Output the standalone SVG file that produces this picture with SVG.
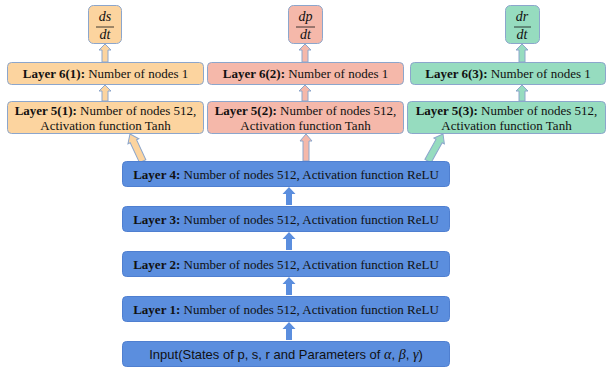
<svg xmlns="http://www.w3.org/2000/svg" width="606" height="369" viewBox="0 0 606 369">
<defs>
<style>
.bg{fill:#ffffff}
.org{fill:#FCD49F;stroke:#8CA6CC;stroke-width:1}
.pnk{fill:#F5B8AA;stroke:#8CA6CC;stroke-width:1}
.grn{fill:#96DCBF;stroke:#8CA6CC;stroke-width:1}
.blu{fill:#5B8EDE;stroke:#4F7FD0;stroke-width:1}
.t{font-family:"Liberation Serif","Times New Roman",serif;font-size:13px;fill:#111}
.tb{font-family:"Liberation Serif","Times New Roman",serif;font-size:13px;fill:#111}
.b{font-weight:bold}
.ti{font-family:"Liberation Sans",Arial,sans-serif;font-size:13px;fill:#111}
.m{font-family:"Liberation Serif","Times New Roman",serif;font-style:italic;font-size:14px;fill:#111}
.aorg{fill:#FCD49F;stroke:#8CA6CC;stroke-width:1}
.apnk{fill:#F5B8AA;stroke:#8CA6CC;stroke-width:1}
.agrn{fill:#96DCBF;stroke:#8CA6CC;stroke-width:1}
.ablu{fill:#5B8EDE;stroke:none}
</style>
</defs>
<rect class="bg" x="0" y="0" width="606" height="369"/>

<g id="connectors">
<path class="aorg" d="M105,44 L111,50 L108,50 L108,62 L102,62 L102,50 L99,50 Z"/>
<path class="apnk" d="M305,44 L311,50 L308,50 L308,62 L302,62 L302,50 L299,50 Z"/>
<path class="agrn" d="M522,44 L528,50 L525,50 L525,62 L519,62 L519,50 L516,50 Z"/>
<path class="aorg" d="M105,85 L111,91 L108,91 L108,101 L102,101 L102,91 L99,91 Z"/>
<path class="apnk" d="M305,85 L311,91 L308,91 L308,101 L302,101 L302,91 L299,91 Z"/>
<path class="agrn" d="M522,85 L528,91 L525,91 L525,101 L519,101 L519,91 L516,91 Z"/>
<path class="aorg" transform="translate(130,134) rotate(-25)" d="M0,0 L6,8 L3.5,8 L3.5,30 L-3.5,30 L-3.5,8 L-6,8 Z"/>
<path class="apnk" d="M306,134 L312,141 L309,141 L309,161 L303,161 L303,141 L300,141 Z"/>
<path class="agrn" transform="translate(443,134) rotate(29)" d="M0,0 L6,8 L3.5,8 L3.5,31 L-3.5,31 L-3.5,8 L-6,8 Z"/>
<path class="ablu" d="M289,187 L295.5,194 L292,194 L292,205 L286,205 L286,194 L282.5,194 Z"/>
<path class="ablu" d="M289,232 L295.5,239 L292,239 L292,250 L286,250 L286,239 L282.5,239 Z"/>
<path class="ablu" d="M289,277 L295.5,284 L292,284 L292,295 L286,295 L286,284 L282.5,284 Z"/>
<path class="ablu" d="M289,322 L295.5,329 L292,329 L292,340 L286,340 L286,329 L282.5,329 Z"/>
</g>

<g id="out-s">
<rect class="org" x="88.5" y="5.5" width="33" height="38" rx="5"/>
<text class="m" x="105" y="21" text-anchor="middle">ds</text>
<line x1="96" y1="27" x2="114" y2="27" stroke="#111" stroke-width="0.8"/>
<text class="m" x="105" y="39" text-anchor="middle">dt</text>
</g>
<g id="out-p">
<rect class="pnk" x="288.5" y="5.5" width="34" height="38" rx="5"/>
<text class="m" x="305.5" y="21" text-anchor="middle">dp</text>
<line x1="296" y1="27" x2="315" y2="27" stroke="#111" stroke-width="0.8"/>
<text class="m" x="305.5" y="39" text-anchor="middle">dt</text>
</g>
<g id="out-r">
<rect class="grn" x="505.5" y="5.5" width="34" height="38" rx="5"/>
<text class="m" x="522" y="21" text-anchor="middle">dr</text>
<line x1="514" y1="27" x2="531" y2="27" stroke="#111" stroke-width="0.8"/>
<text class="m" x="522" y="39" text-anchor="middle">dt</text>
</g>

<g id="layer6-1">
<rect class="org" x="7.5" y="62.5" width="196" height="22" rx="4"/>
<text class="t" x="105.5" y="78" text-anchor="middle"><tspan class="b">Layer 6(1):</tspan> Number of nodes 1</text>
</g>
<g id="layer6-2">
<rect class="pnk" x="207.5" y="62.5" width="196" height="22" rx="4"/>
<text class="t" x="305.5" y="78" text-anchor="middle"><tspan class="b">Layer 6(2):</tspan> Number of nodes 1</text>
</g>
<g id="layer6-3">
<rect class="grn" x="410.5" y="62.5" width="195" height="22" rx="4"/>
<text class="t" x="508" y="78" text-anchor="middle"><tspan class="b">Layer 6(3):</tspan> Number of nodes 1</text>
</g>

<g id="layer5-1">
<rect class="org" x="7.5" y="101.5" width="196" height="32" rx="4"/>
<text class="t" x="105.5" y="114.5" text-anchor="middle"><tspan class="b">Layer 5(1):</tspan> Number of nodes 512,</text>
<text class="t" x="105.5" y="129.5" text-anchor="middle">Activation function Tanh</text>
</g>
<g id="layer5-2">
<rect class="pnk" x="207.5" y="101.5" width="196" height="32" rx="4"/>
<text class="t" x="305.5" y="114.5" text-anchor="middle"><tspan class="b">Layer 5(2):</tspan> Number of nodes 512,</text>
<text class="t" x="305.5" y="129.5" text-anchor="middle">Activation function Tanh</text>
</g>
<g id="layer5-3">
<rect class="grn" x="407.5" y="101.5" width="198" height="32" rx="4"/>
<text class="t" x="506.5" y="114.5" text-anchor="middle"><tspan class="b">Layer 5(3):</tspan> Number of nodes 512,</text>
<text class="t" x="506.5" y="129.5" text-anchor="middle">Activation function Tanh</text>
</g>

<g id="layer4">
<rect class="blu" x="122.5" y="161.5" width="327" height="25" rx="4"/>
<text class="tb" x="286" y="178.5" text-anchor="middle"><tspan class="b">Layer 4:</tspan> Number of nodes 512, Activation function ReLU</text>
</g>
<g id="layer3">
<rect class="blu" x="122.5" y="206.5" width="327" height="25" rx="4"/>
<text class="tb" x="286" y="223.5" text-anchor="middle"><tspan class="b">Layer 3:</tspan> Number of nodes 512, Activation function ReLU</text>
</g>
<g id="layer2">
<rect class="blu" x="122.5" y="251.5" width="327" height="25" rx="4"/>
<text class="tb" x="286" y="268.5" text-anchor="middle"><tspan class="b">Layer 2:</tspan> Number of nodes 512, Activation function ReLU</text>
</g>
<g id="layer1">
<rect class="blu" x="122.5" y="296.5" width="327" height="25" rx="4"/>
<text class="tb" x="286" y="313.5" text-anchor="middle"><tspan class="b">Layer 1:</tspan> Number of nodes 512, Activation function ReLU</text>
</g>
<g id="input">
<rect class="blu" x="122.5" y="341.5" width="327" height="25" rx="4"/>
<text class="ti" x="286" y="358.5" text-anchor="middle">Input(States of p, s, r and Parameters of <tspan class="m">α</tspan>, <tspan class="m">β</tspan>, <tspan class="m">γ</tspan>)</text>
</g>
</svg>
